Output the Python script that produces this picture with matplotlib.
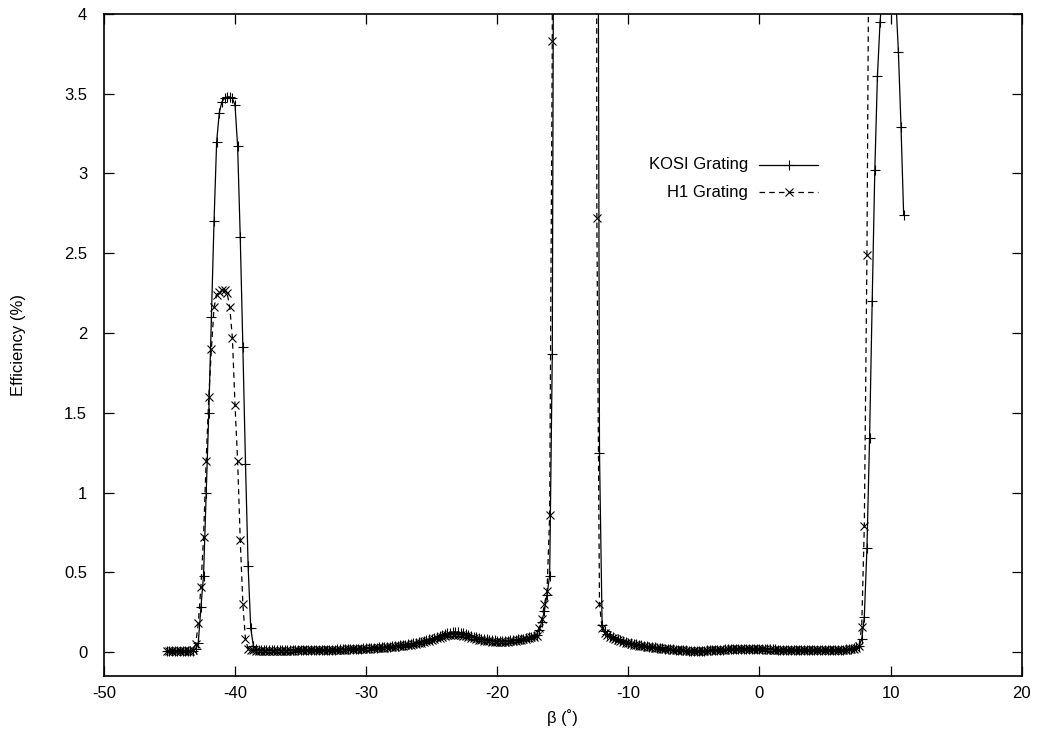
import numpy as np
import matplotlib
matplotlib.use("Agg")
import matplotlib.pyplot as plt

plt.rcParams['font.family'] = ['Liberation Sans', 'DejaVu Sans']
plt.rcParams['lines.scale_dashes'] = False
plt.rcParams['axes.unicode_minus'] = False

# --- DATA (0.2 deg grid) ---
beta_kosi = np.round(np.arange(-45.2, 11.01, 0.2), 1)
kosi = [0.005,
        0.005, 0.005, 0.005, 0.005, 0.005,   # -45
        0.005, 0.005, 0.006, 0.006, 0.008,   # -44
        0.02, 0.06, 0.28, 0.48, 1.0,         # -43
        1.5, 2.1, 2.7, 3.2, 3.38,            # -42
        3.45, 3.47, 3.48, 3.48, 3.47,        # -41
        3.43, 3.17, 2.60, 1.91, 1.18,        # -40
        0.54, 0.15, 0.04, 0.02, 0.015,       # -39
        0.012, 0.01, 0.01, 0.01, 0.01,       # -38
        0.01, 0.01, 0.01, 0.01, 0.01,        # -37
        0.01, 0.01, 0.01, 0.012, 0.012,      # -36
        0.012, 0.012, 0.012, 0.013, 0.013,   # -35
        0.013, 0.014, 0.014, 0.014, 0.015,   # -34
        0.015, 0.015, 0.016, 0.016, 0.017,   # -33
        0.017, 0.018, 0.018, 0.019, 0.02,    # -32
        0.02, 0.021, 0.022, 0.022, 0.023,    # -31
        0.024, 0.025, 0.026, 0.027, 0.028,   # -30
        0.029, 0.03, 0.032, 0.033, 0.035,    # -29
        0.036, 0.038, 0.04, 0.042, 0.044,    # -28
        0.046, 0.049, 0.052, 0.055, 0.058,   # -27
        0.062, 0.066, 0.07, 0.075, 0.08,     # -26
        0.085, 0.09, 0.096, 0.102, 0.108,    # -25
        0.113, 0.117, 0.121, 0.124, 0.125,   # -24
        0.124, 0.121, 0.117, 0.112, 0.107,   # -23
        0.102, 0.097, 0.093, 0.089, 0.085,   # -22
        0.082, 0.079, 0.077, 0.075, 0.073,   # -21
        0.072, 0.071, 0.071, 0.071, 0.072,   # -20
        0.073, 0.075, 0.077, 0.079, 0.082,   # -19
        0.085, 0.088, 0.092, 0.097, 0.103,   # -18
        0.11, 0.14, 0.19, 0.26, 0.36,        # -17
        0.48, 1.87, 7.5, 15, 25,             # -16
        35, 45, 55, 60, 60,                  # -15
        60, 55, 50, 45, 40,                  # -14
        30, 22, 15, 8, 1.25,                 # -13
        0.17, 0.13, 0.115, 0.10, 0.092,      # -12
        0.085, 0.079, 0.073, 0.068, 0.063,   # -11
        0.059, 0.055, 0.051, 0.048, 0.045,   # -10
        0.042, 0.039, 0.037, 0.034, 0.032,   # -9
        0.03, 0.028, 0.026, 0.024, 0.022,    # -8
        0.02, 0.018, 0.017, 0.015, 0.014,    # -7
        0.012, 0.011, 0.01, 0.009, 0.009,    # -6
        0.008, 0.008, 0.008, 0.009, 0.009,   # -5
        0.01, 0.011, 0.012, 0.013, 0.014,    # -4
        0.015, 0.016, 0.017, 0.018, 0.019,   # -3
        0.02, 0.02, 0.021, 0.021, 0.021,     # -2
        0.021, 0.021, 0.021, 0.02, 0.02,     # -1
        0.02, 0.019, 0.019, 0.018, 0.018,    # 0
        0.017, 0.017, 0.016, 0.016, 0.015,   # 1
        0.015, 0.015, 0.014, 0.014, 0.014,   # 2
        0.013, 0.013, 0.013, 0.013, 0.013,   # 3
        0.013, 0.013, 0.013, 0.013, 0.013,   # 4
        0.013, 0.013, 0.014, 0.014, 0.014,   # 5
        0.015, 0.015, 0.016, 0.017, 0.018,   # 6
        0.02, 0.023, 0.03, 0.04, 0.08,       # 7
        0.22, 0.65, 1.34, 2.2, 3.02,         # 8
        3.61, 3.95, 4.15, 4.28, 4.33,        # 9
        4.32, 4.25, 4.1, 3.76, 3.29,         # 10
        2.74]

beta_h1 = np.round(np.arange(-45.2, 8.41, 0.2), 1)
h1 = [0.004,
      0.004, 0.004, 0.004, 0.004, 0.004,     # -45
      0.004, 0.005, 0.006, 0.008, 0.015,     # -44
      0.05, 0.18, 0.41, 0.72, 1.2,           # -43
      1.6, 1.9, 2.16, 2.24, 2.26,            # -42
      2.27, 2.27, 2.25, 2.16, 1.97,          # -41
      1.55, 1.2, 0.7, 0.3, 0.08,             # -40
      0.02, 0.012, 0.01, 0.009, 0.008,       # -39
      0.008, 0.008, 0.008, 0.008, 0.008,     # -38
      0.008, 0.008, 0.008, 0.009, 0.009,     # -37
      0.009, 0.009, 0.009, 0.01, 0.01,       # -36
      0.01, 0.01, 0.01, 0.011, 0.011,        # -35
      0.011, 0.012, 0.012, 0.012, 0.013,     # -34
      0.013, 0.013, 0.014, 0.014, 0.015,     # -33
      0.015, 0.016, 0.016, 0.017, 0.017,     # -32
      0.018, 0.018, 0.019, 0.02, 0.02,       # -31
      0.021, 0.022, 0.023, 0.024, 0.025,     # -30
      0.026, 0.027, 0.028, 0.03, 0.031,      # -29
      0.032, 0.034, 0.036, 0.038, 0.04,      # -28
      0.042, 0.044, 0.047, 0.05, 0.053,      # -27
      0.056, 0.06, 0.064, 0.068, 0.072,      # -26
      0.077, 0.081, 0.086, 0.091, 0.096,     # -25
      0.1, 0.104, 0.107, 0.109, 0.11,        # -24
      0.109, 0.107, 0.103, 0.099, 0.095,     # -23
      0.09, 0.086, 0.082, 0.078, 0.075,      # -22
      0.072, 0.07, 0.068, 0.066, 0.065,      # -21
      0.064, 0.064, 0.064, 0.065, 0.066,     # -20
      0.067, 0.069, 0.071, 0.074, 0.077,     # -19
      0.08, 0.083, 0.087, 0.092, 0.097,      # -18
      0.1, 0.15, 0.21, 0.3, 0.38,            # -17
      0.86, 3.83, 30, 45, 55,                # -16
      60, 60, 60, 60, 60,                    # -15
      60, 55, 50, 45, 40,                    # -14
      35, 30, 25, 2.72, 0.30,                # -13
      0.15, 0.12, 0.105, 0.095, 0.087,       # -12
      0.08, 0.074, 0.068, 0.063, 0.058,      # -11
      0.054, 0.05, 0.047, 0.044, 0.041,      # -10
      0.038, 0.036, 0.034, 0.031, 0.029,     # -9
      0.027, 0.025, 0.023, 0.022, 0.02,      # -8
      0.018, 0.017, 0.015, 0.014, 0.013,     # -7
      0.011, 0.01, 0.009, 0.008, 0.008,      # -6
      0.007, 0.007, 0.007, 0.008, 0.008,     # -5
      0.009, 0.01, 0.011, 0.012, 0.013,      # -4
      0.014, 0.015, 0.016, 0.017, 0.018,     # -3
      0.018, 0.019, 0.019, 0.019, 0.019,     # -2
      0.019, 0.019, 0.019, 0.018, 0.018,     # -1
      0.018, 0.017, 0.017, 0.016, 0.016,     # 0
      0.015, 0.015, 0.015, 0.014, 0.014,     # 1
      0.013, 0.013, 0.013, 0.012, 0.012,     # 2
      0.012, 0.012, 0.012, 0.012, 0.012,     # 3
      0.012, 0.012, 0.012, 0.012, 0.012,     # 4
      0.012, 0.012, 0.012, 0.013, 0.013,     # 5
      0.013, 0.014, 0.015, 0.016, 0.017,     # 6
      0.019, 0.022, 0.028, 0.04, 0.16,       # 7
      0.79, 2.49, 5.3]                       # 8.0 - 8.4

xticks = [-50, -40, -30, -20, -10, 0, 10, 20]
yticks = [0, 0.5, 1, 1.5, 2, 2.5, 3, 3.5, 4]
ytick_labels = ['0', '0.5', '1', '1.5', '2', '2.5', '3', '3.5', '4']
labels = ['KOSI Grating', 'H1 Grating']

# --- PLOT ---
fig = plt.figure(figsize=(10.39, 7.34), dpi=100)
ax = fig.add_axes([0.1, 0.079, 0.8833, 0.902])

ax.plot(beta_kosi, kosi, color='black', lw=0.9, marker='+', ms=6.5, mew=0.8)
ax.plot(beta_h1, h1, color='black', lw=0.9, ls=(0, (4, 3)),
        marker='x', ms=5.5, mew=0.8)

ax.set_xlim(-50, 20)
ax.set_ylim(-0.15, 4)
ax.set_xticks(xticks)
ax.set_yticks(yticks)
ax.set_yticklabels(ytick_labels)
ax.tick_params(direction='in', top=True, right=True, length=7, width=0.9,
               labelsize=12)
ax.tick_params(axis='x', pad=7)
ax.tick_params(axis='y', pad=12)
for sp in ax.spines.values():
    sp.set_linewidth(1.2)

ax.set_xlabel('β (˚)', fontsize=12)
ax.xaxis.set_label_coords(0.5, -0.05)
ax.set_ylabel('Efficiency (%)', fontsize=12)
ax.yaxis.set_label_coords(-0.085, 0.5)

# gnuplot style key: right aligned text, sample line with marker in middle
key_y = [0.772, 0.731]
styles = [dict(ls='-', marker='+', ms=6.5), dict(ls=(0, (4, 3)), marker='x', ms=5.5)]
for lab, ky, st in zip(labels, key_y, styles):
    ax.text(0.702, ky, lab, transform=ax.transAxes, ha='right', va='center',
            fontsize=12)
    ax.plot([0.714, 0.746, 0.778], [ky, ky, ky], transform=ax.transAxes,
            color='black', lw=0.9, mew=0.8, markevery=[1], **st)

fig.savefig('out.png', dpi=100)
